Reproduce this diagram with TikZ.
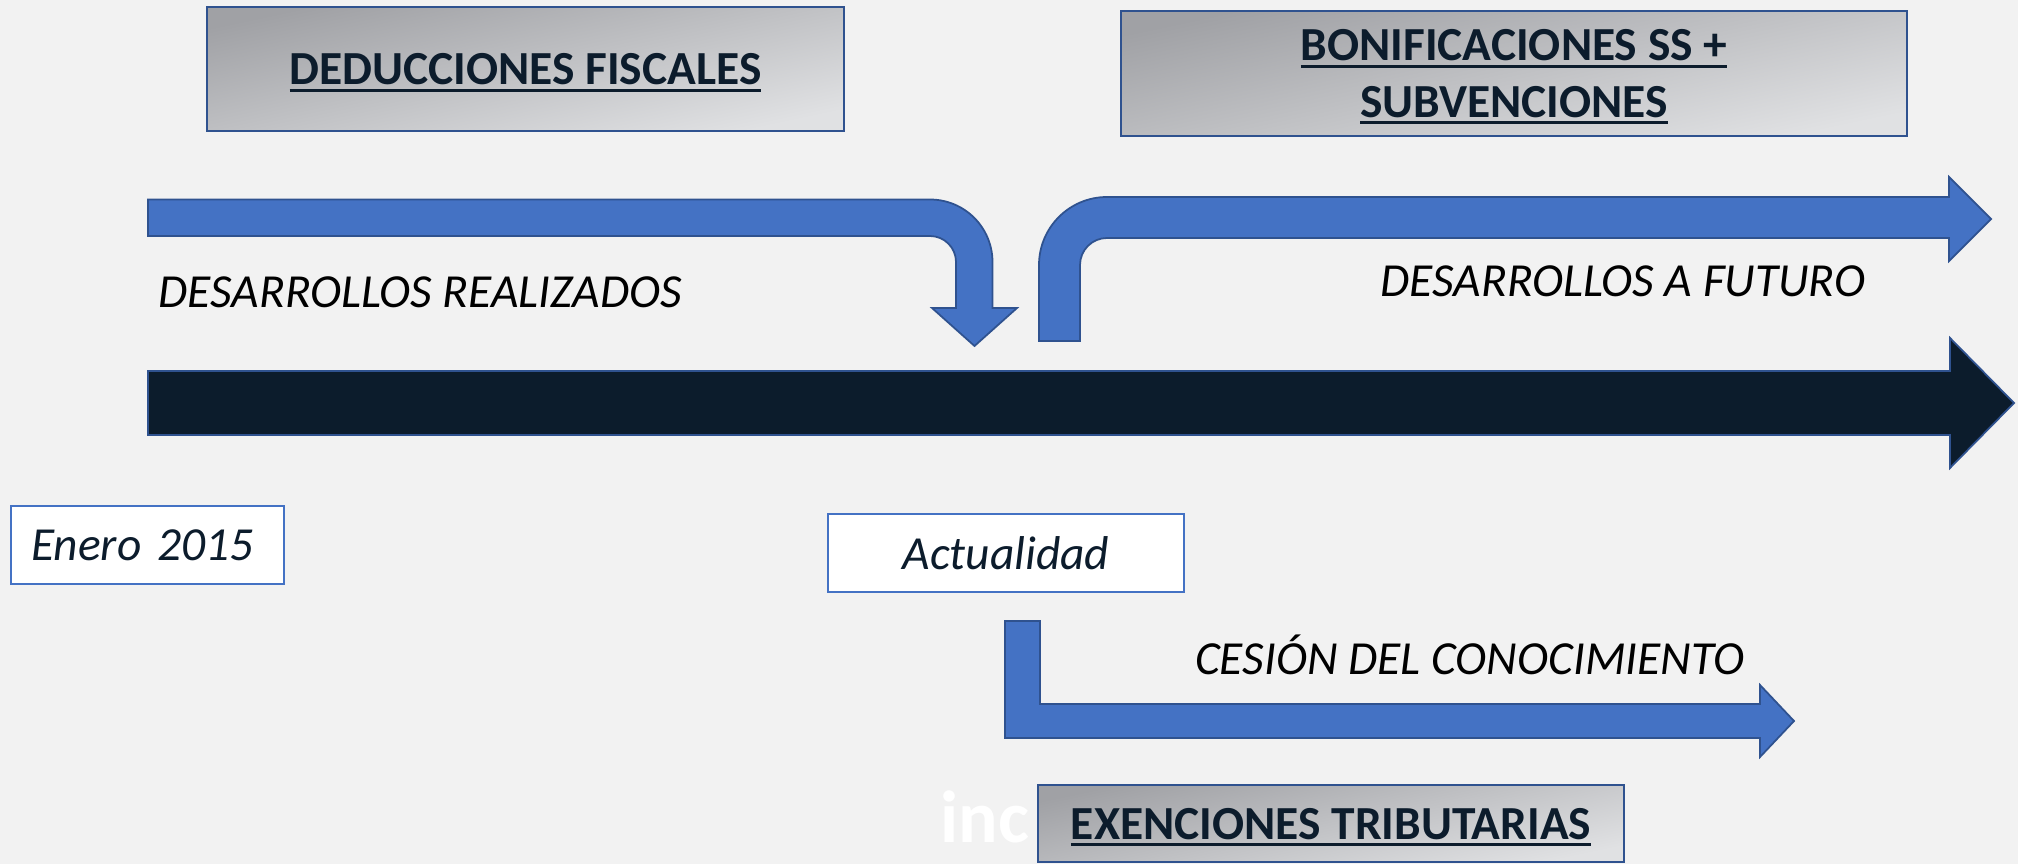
\documentclass[tikz,border=0pt]{standalone}
\usepackage{fontspec}
\setmainfont{Carlito}
\usepackage{tikz}
\newcommand{\labelsize}{\fontsize{13.5}{16}\selectfont}
\newsavebox{\ulbox}
\newcommand{\ulined}[1]{\sbox{\ulbox}{#1}\leavevmode\rlap{\rule[-2pt]{\wd\ulbox}{0.85pt}}\usebox{\ulbox}}
\definecolor{myBlue}{RGB}{68,114,196}
\definecolor{myBlueDark}{RGB}{47,82,143}
\definecolor{myNavy}{RGB}{12,28,44}
\definecolor{myBack}{RGB}{242,242,242}
\definecolor{myGrayDark}{RGB}{160,161,165}
\definecolor{myGrayLight}{RGB}{224,225,227}
\usetikzlibrary{calc,positioning}
\tikzset{
  font=\labelsize,
  plate/.style={draw=myBlueDark,line width=0.6pt,top color=myGrayDark,bottom color=myGrayLight,shading angle=12,text=myNavy,font=\labelsize\bfseries,align=center,inner sep=0,text depth=0pt},
  datebox/.style={draw=myBlue,line width=0.8pt,fill=white,text=myNavy,font=\labelsize\itshape,inner sep=0,minimum height=0.78cm,text depth=0pt},
  tag/.style={font=\labelsize\itshape,text=black,inner sep=0,anchor=base west},
  band/.style={draw=myBlueDark,line width=0.5pt,fill=myBlue},
  timeline/.style={draw=myBlueDark,line width=0.5pt,fill=myNavy},
}

\begin{document}
\begin{tikzpicture}
  \path [fill=myBack,use as bounding box] (0,0) rectangle (20.18,-8.64);
  % headings
  \node (deduc) [plate,minimum width=6.37cm,minimum height=1.24cm] at (5.255,-0.69) {\ulined{DEDUCCIONES FISCALES}};
  \node (bonif) [plate,minimum width=7.86cm,minimum height=1.25cm] at (15.14,-0.735) {\ulined{BONIFICACIONES SS +}\\\ulined{SUBVENCIONES}};
  \node (mark) [font=\fontsize{21}{24}\selectfont\bfseries,text=white,inner sep=0,anchor=base west] at (9.40,-8.43) {inc};
  \node (exen) [plate,minimum width=5.86cm,minimum height=0.77cm] at (13.31,-8.235) {\ulined{EXENCIONES TRIBUTARIAS}};
  % block arrows
  \path [band] (1.48,-1.995) -- (9.30,-1.995) arc[start angle=90,end angle=0,radius=0.625]
    -- (9.925,-3.08) -- (10.17,-3.08) -- (9.745,-3.46) -- (9.32,-3.08) -- (9.56,-3.08)
    -- (9.56,-2.62) arc[start angle=0,end angle=90,radius=0.26] -- (1.48,-2.36) -- cycle;
  \path [band] (10.39,-3.41) -- (10.39,-2.65) arc[start angle=180,end angle=90,radius=0.68]
    -- (19.49,-1.97) -- (19.49,-1.77) -- (19.91,-2.19) -- (19.49,-2.61) -- (19.49,-2.38)
    -- (11.07,-2.38) arc[start angle=90,end angle=180,radius=0.27] -- (10.80,-3.41) -- cycle;
  \path [timeline] (1.48,-3.71) -- (19.50,-3.71) -- (19.50,-3.38) -- (20.14,-4.03)
    -- (19.50,-4.68) -- (19.50,-4.35) -- (1.48,-4.35) -- cycle;
  \path [band] (10.05,-6.21) -- (10.40,-6.21) -- (10.40,-7.04) -- (17.60,-7.04) -- (17.60,-6.85)
    -- (17.94,-7.21) -- (17.60,-7.57) -- (17.60,-7.38) -- (10.05,-7.38) -- cycle;
  % labels
  \node (real) [tag] at (1.58,-3.08) {DESARROLLOS REALIZADOS};
  \node (fut) [tag] at (13.80,-2.97) {DESARROLLOS A FUTURO};
  \node (ces) [tag] at (11.945,-6.74) {CESIÓN DEL CONOCIMIENTO};
  \node (enero) [datebox,minimum width=2.73cm,text width=2.33cm,align=left,inner xsep=0.2cm] at (1.475,-5.45) {Enero 2015};
  \node (actual) [datebox,minimum width=3.56cm] at (10.06,-5.53) {Actualidad};
\end{tikzpicture}
\end{document}
